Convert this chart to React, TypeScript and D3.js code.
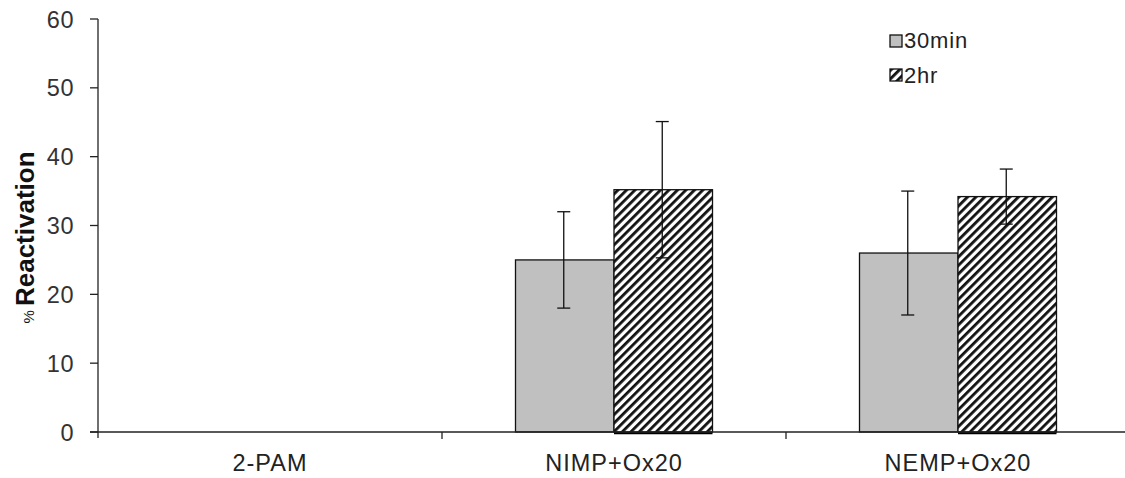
import React from "react";
import * as d3 from "d3";

const categories = ["2-PAM", "NIMP+Ox20", "NEMP+Ox20"];
const seriesNames = ["30min", "2hr"];
const values30min = [0, 25, 26];
const err30min = [0, 7, 9];
const values2hr = [0, 35.2, 34.2];
const err2hr = [0, 9.9, 4];
const yTicks = [0, 10, 20, 30, 40, 50, 60];

const W = 1125, H = 478;
const x0 = 98, x1 = 1130, yTop = 19, yBot = 432;

export default function App() {
  const x = d3.scaleBand<string>().domain(categories).range([x0, x1]).paddingInner(0).paddingOuter(0);
  const y = d3.scaleLinear().domain([0, 60]).range([yBot, yTop]);
  const bw = 98.5;
  const series = [
    { name: "30min", vals: values30min, errs: err30min },
    { name: "2hr", vals: values2hr, errs: err2hr },
  ];
  const font = "'Liberation Sans', Arial, sans-serif";
  return (
    <svg width={W} height={H} style={{ position: "absolute", left: 0, top: 0 }}>
      <defs>
        <pattern id="hatch" patternUnits="userSpaceOnUse" width="6" height="6" patternTransform="rotate(45)">
          <rect width="6" height="6" fill="#fff" />
          <rect x="0" y="0" width="2.8" height="6" fill="#111" />
        </pattern>
      </defs>
      <rect width={W} height={H} fill="#fff" />
      {categories.map((c, ci) =>
        series.map((s, si) => {
          const v = s.vals[ci];
          if (v <= 0) return null;
          const cx = (x(c) as number) + x.bandwidth() / 2;
          const bx = cx - bw + si * bw;
          return (
            <g key={c + s.name}>
              <rect x={bx} y={y(v)} width={bw} height={yBot - y(v)}
                fill={si === 0 ? "#c0c0c0" : "url(#hatch)"} stroke="#111" strokeWidth={1.3} />
              {si === 1 && <line x1={bx} x2={bx + bw} y1={yBot + 1} y2={yBot + 1} stroke="#000" strokeWidth={2.5} />}
            </g>
          );
        })
      )}
      {categories.map((c, ci) =>
        series.map((s, si) => {
          const v = s.vals[ci];
          if (v <= 0) return null;
          const cx = (x(c) as number) + x.bandwidth() / 2;
          const ex = cx - bw / 2 + si * bw - 1;
          const e = s.errs[ci];
          return (
            <g key={"e" + c + s.name} stroke="#111" strokeWidth={1.3}>
              <line x1={ex} x2={ex} y1={y(v + e)} y2={y(v - e)} />
              <line x1={ex - 6.5} x2={ex + 6.5} y1={y(v + e)} y2={y(v + e)} />
              <line x1={ex - 6.5} x2={ex + 6.5} y1={y(v - e)} y2={y(v - e)} />
            </g>
          );
        })
      )}
      <line x1={x0} x2={x0} y1={yTop} y2={yBot + 6} stroke="#222" strokeWidth={1.3} />
      {yTicks.map((t) => (
        <g key={t}>
          <line x1={x0 - 8} x2={x0} y1={y(t)} y2={y(t)} stroke="#222" strokeWidth={1.3} />
          <text x={x0 - 24} y={y(t) + 8.5} textAnchor="end" fontFamily={font} fontSize={23.5} letterSpacing={0.5} fill="#333">{t}</text>
        </g>
      ))}
      <line x1={x0 - 8} x2={W} y1={yBot} y2={yBot} stroke="#222" strokeWidth={1.3} />
      {categories.map((c, i) => (
        <g key={c}>
          {i > 0 && <line x1={x(c) as number} x2={x(c) as number} y1={yBot} y2={yBot + 7} stroke="#222" strokeWidth={1.3} />}
          <text x={(x(c) as number) + x.bandwidth() / 2} y={471} textAnchor="middle" fontFamily={font} fontSize={23.5} letterSpacing={1} fill="#222">{c}</text>
        </g>
      ))}
      <text transform={`translate(34,${(yTop + yBot) / 2 + 12}) rotate(-90)`} textAnchor="middle" fontFamily={font} fill="#111">
        <tspan fontSize={15}>% </tspan>
        <tspan fontSize={26} fontWeight="bold">Reactivation</tspan>
      </text>
      {seriesNames.map((n, i) => (
        <g key={n}>
          <rect x={890} y={35 + i * 34} width={12} height={12} fill={i === 0 ? "#c0c0c0" : "url(#hatch)"} stroke="#111" strokeWidth={1.3} />
          <text x={904} y={48 + i * 35} fontFamily={font} fontSize={22} letterSpacing={0.8} fill="#222">{n}</text>
        </g>
      ))}
    </svg>
  );
}
